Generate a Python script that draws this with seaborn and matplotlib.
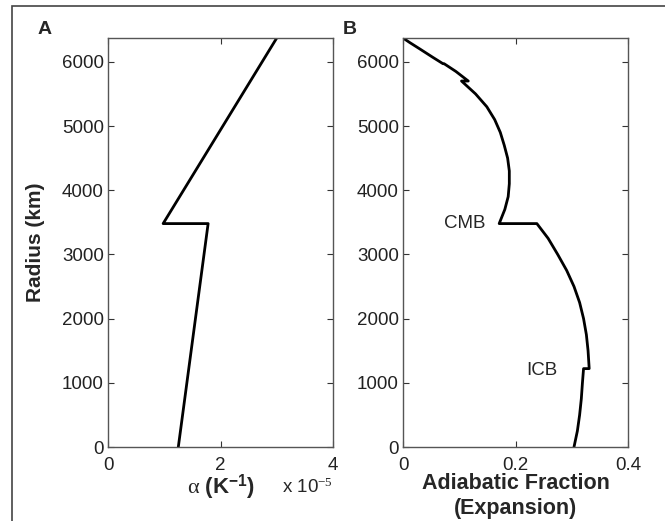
import pandas as pd
import matplotlib.pyplot as plt
import matplotlib.patches as mpatches
import seaborn as sns

# panel A: thermal expansivity (units of 1e-5 / K) vs radius
radius_a = [0, 3480, 3480, 6371]
alpha_a = [1.25, 1.78, 0.98, 3.0]

# panel B: adiabatic fraction (expansion) vs radius
radius_b = [6371, 6300, 6200, 6070, 5971, 5971, 5850, 5701, 5701, 5500, 5300, 5100, 4900,
            4700, 4500, 4300, 4100, 3900, 3700, 3480, 3480, 3250, 3000, 2750, 2500,
            2250, 2000, 1750, 1500, 1221, 1221, 1000, 750, 500, 250, 0]
frac_b = [0.0, 0.012, 0.030, 0.053, 0.071, 0.073, 0.094, 0.116, 0.104, 0.129, 0.149, 0.163, 0.173,
          0.180, 0.186, 0.189, 0.189, 0.187, 0.181, 0.171, 0.238, 0.258, 0.275, 0.291, 0.304,
          0.314, 0.321, 0.326, 0.329, 0.331, 0.321, 0.319, 0.317, 0.314, 0.310, 0.304]

y_ticks = [0, 1000, 2000, 3000, 4000, 5000, 6000]

sns.set_style('ticks')
plt.rcParams['font.family'] = ['Liberation Sans', 'DejaVu Sans']
plt.rcParams['mathtext.fontset'] = 'custom'
plt.rcParams['mathtext.rm'] = 'Liberation Serif'
plt.rcParams['mathtext.bf'] = 'Liberation Sans:bold'
plt.rcParams['mathtext.default'] = 'rm'

W, H = 665, 521
fig = plt.figure(figsize=(W / 100, H / 100), dpi=100)

# outer frame (left and top edges visible)
fig.patches.append(mpatches.Rectangle((12 / W, -0.2), 1.2, (H - 6) / H + 0.2,
                                      transform=fig.transFigure, fill=False,
                                      edgecolor='#444444', lw=1.2))

ax_a = fig.add_axes([108 / W, 1 - 447 / H, 225 / W, 409 / H])
ax_b = fig.add_axes([403 / W, 1 - 447 / H, 225 / W, 409 / H])

df_a = pd.DataFrame({'alpha': alpha_a, 'radius': radius_a})
df_b = pd.DataFrame({'frac': frac_b, 'radius': radius_b})

sns.lineplot(data=df_a, x='alpha', y='radius', sort=False, estimator=None,
             color='black', lw=2.0, ax=ax_a)
sns.lineplot(data=df_b, x='frac', y='radius', sort=False, estimator=None,
             color='black', lw=2.0, ax=ax_b)

for ax in (ax_a, ax_b):
    ax.set_ylim(0, 6371)
    ax.set_yticks(y_ticks)
    ax.tick_params(direction='in', top=True, right=True, length=4, width=0.8,
                   labelsize=13.5, colors='#333333', labelcolor='#222222', pad=3)
    ax.tick_params(axis='x', pad=7)
    for s in ax.spines.values():
        s.set_color('#555555')
        s.set_linewidth(1.0)

ax_a.set_xlim(0, 4)
ax_a.set_xticks([0, 2, 4])
ax_a.set_xticklabels(['0', '2', '4'])
ax_b.set_xlim(0, 0.4)
ax_b.set_xticks([0, 0.2, 0.4])
ax_b.set_xticklabels(['0', '0.2', '0.4'])

ax_a.set_ylabel('Radius (km)', fontsize=15, fontweight='bold')
ax_a.yaxis.set_label_coords(-0.28, 0.5)
ax_b.set_ylabel('')

ax_a.set_xlabel(r'$\alpha$ (K$^{\mathbf{-1}}$)', fontsize=16, fontweight='bold')
ax_a.xaxis.set_label_coords(0.5, -0.098)
ax_a.xaxis.label.set_va('center')
ax_a.text(1.0, -0.098, r'x 10$^{-5}$', transform=ax_a.transAxes, fontsize=13.5,
          ha='right', va='center', family='Liberation Sans')

ax_b.set_xlabel('Adiabatic Fraction\n(Expansion)', fontsize=15.5, fontweight='bold',
                linespacing=1.22)
ax_b.xaxis.set_label_coords(0.5, -0.12)
ax_b.xaxis.label.set_va('center')

ax_b.text(0.110, 3480, 'CMB', fontsize=13.5, ha='center', va='center')
ax_b.text(0.247, 1197, 'ICB', fontsize=13.5, ha='center', va='center')

fig.text(45 / W, 1 - 30 / H, 'A', fontsize=14, fontweight='bold', ha='center', va='center')
fig.text(350 / W, 1 - 30 / H, 'B', fontsize=14, fontweight='bold', ha='center', va='center')

fig.savefig('out.png', dpi=100)
